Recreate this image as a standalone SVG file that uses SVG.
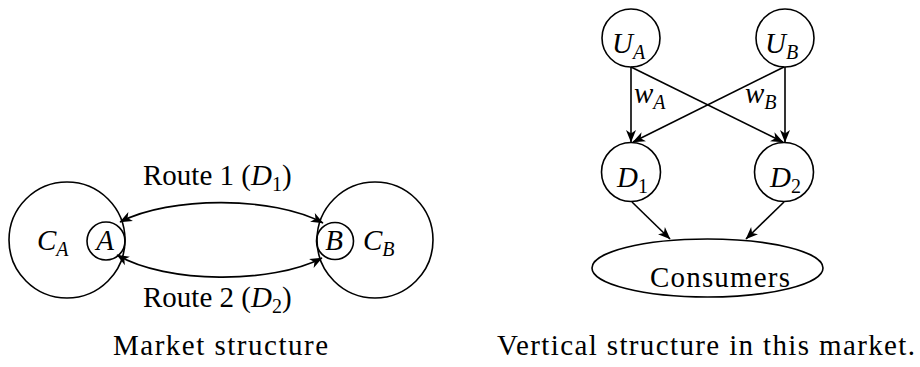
<svg xmlns="http://www.w3.org/2000/svg" width="920" height="367" viewBox="0 0 920 367" font-family="'Liberation Serif', 'DejaVu Serif', serif">
<style>
.n{fill:none;stroke:#000;stroke-width:1.6}
.e{fill:none;stroke:#000;stroke-width:1.6}
text{font-family:'Liberation Serif', 'DejaVu Serif', serif}
.t{font-size:29px;fill:#000}
.m{font-style:italic;font-size:29px;fill:#000}
.s{font-size:20px;font-style:italic}
.sr{font-size:20px;font-style:normal}
</style>
<defs>
<marker id="ah" markerUnits="userSpaceOnUse" markerWidth="14" markerHeight="12" refX="12" refY="5" orient="auto-start-reverse" viewBox="0 0 14 10">
<path d="M0,0 L12.5,5 L0,10 L3.5,5 Z" fill="#000"/>
</marker>
</defs>
<rect width="920" height="367" fill="#fff"/>
<g id="CA"><circle class="n" cx="67" cy="240" r="58"/><text class="m" x="37" y="250">C<tspan class="s" dy="6">A</tspan></text></g>
<g id="A"><circle class="n" cx="106" cy="241" r="19"/><text class="m" x="105" y="250" text-anchor="middle">A</text></g>
<g id="B"><circle class="n" cx="335" cy="241" r="18.5"/><text class="m" x="334" y="250" text-anchor="middle">B</text></g>
<g id="CB"><circle class="n" cx="375" cy="240" r="58"/><text class="m" x="363" y="250">C<tspan class="s" dy="6">B</tspan></text></g>
<g id="UA"><circle class="n" cx="631" cy="38" r="29"/><text class="m" x="612" y="53">U<tspan class="s" dy="6">A</tspan></text></g>
<g id="UB"><circle class="n" cx="785" cy="38" r="29"/><text class="m" x="765" y="53">U<tspan class="s" dy="6">B</tspan></text></g>
<g id="D1"><circle class="n" cx="631" cy="172" r="29.5"/><text class="m" x="617" y="187">D<tspan class="sr" dy="6">1</tspan></text></g>
<g id="D2"><circle class="n" cx="784" cy="172" r="29.5"/><text class="m" x="770" y="187">D<tspan class="sr" dy="6">2</tspan></text></g>
<g id="Consumers"><ellipse class="n" cx="707.5" cy="268" rx="115.5" ry="29"/><text class="t" x="650" y="287" textLength="140">Consumers</text></g>
<g id="connectors">
<path class="e" d="M120,222 C170,196 273,196 323,223" marker-start="url(#ah)" marker-end="url(#ah)"/>
<path class="e" d="M117,255 C167,284 272,284 322,258" marker-start="url(#ah)" marker-end="url(#ah)"/>
<path class="e" d="M631,67 L631,142" marker-end="url(#ah)"/>
<path class="e" d="M785,67 L785,142" marker-end="url(#ah)"/>
<path class="e" d="M631,67 L783,142" marker-end="url(#ah)"/>
<path class="e" d="M784,67 L633,142" marker-end="url(#ah)"/>
<path class="e" d="M632,202 L670,239" marker-end="url(#ah)"/>
<path class="e" d="M784,202 L746,239" marker-end="url(#ah)"/>
<text class="m" x="634" y="103">w<tspan class="s" dy="6">A</tspan></text>
<text class="m" x="745" y="103">w<tspan class="s" dy="6">B</tspan></text>
<text class="t" x="143" y="185">Route 1 (<tspan font-style="italic">D</tspan><tspan class="sr" dy="6">1</tspan><tspan dy="-6">)</tspan></text>
<text class="t" x="143" y="307">Route 2 (<tspan font-style="italic">D</tspan><tspan class="sr" dy="6">2</tspan><tspan dy="-6">)</tspan></text>
</g>
<text class="t" x="113" y="355" textLength="215">Market structure</text>
<text class="t" x="497" y="355" textLength="418">Vertical structure in this market.</text>
</svg>
